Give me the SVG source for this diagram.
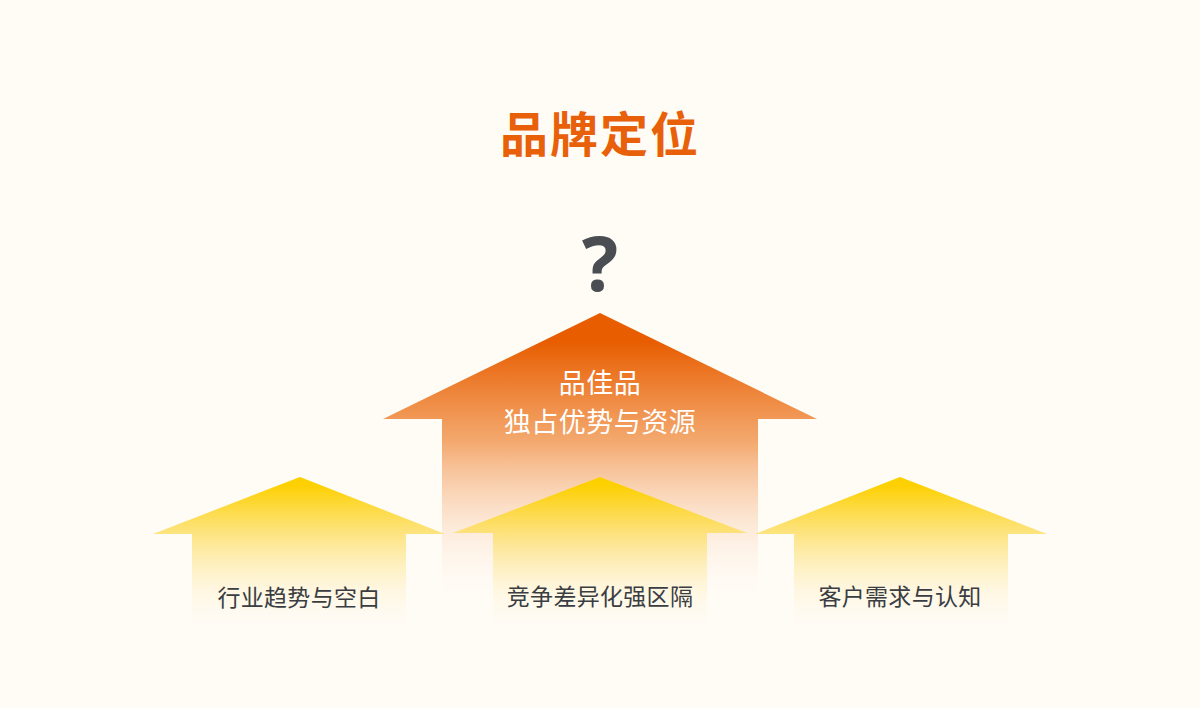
<svg xmlns="http://www.w3.org/2000/svg" width="1200" height="708" viewBox="0 0 1200 708">
<defs>
<linearGradient id="gOrange" x1="0" y1="313" x2="0" y2="600" gradientUnits="userSpaceOnUse">
<stop offset="0.1" stop-color="#E85D00"/>
<stop offset="0.45" stop-color="#F2A060" stop-opacity="0.9"/>
<stop offset="1" stop-color="#FFFBF5" stop-opacity="0"/>
</linearGradient>
<linearGradient id="gYellow" x1="0" y1="477" x2="0" y2="632" gradientUnits="userSpaceOnUse">
<stop offset="0.05" stop-color="#FDD000"/>
<stop offset="0.4" stop-color="#FDE27A" stop-opacity="0.85"/>
<stop offset="1" stop-color="#FFFBF5" stop-opacity="0"/>
</linearGradient>
<style>
.title{font-family:"Noto Sans CJK SC","Noto Sans",sans-serif;font-weight:700;font-size:48px;fill:#E8600A;text-anchor:middle;letter-spacing:2px}
.q{font-family:"Noto Sans","Liberation Sans",sans-serif;font-weight:700;font-size:76px;fill:#4A4D52;text-anchor:middle}
.wt{font-family:"Noto Sans CJK SC",sans-serif;font-size:27px;fill:#FFFFFF;text-anchor:middle;letter-spacing:0.5px}
.lbl{font-family:"Noto Sans CJK SC",sans-serif;font-size:23px;fill:#3A3D42;text-anchor:middle;letter-spacing:0.3px}
</style>
</defs>
<rect width="1200" height="708" fill="#FFFBF5"/>
<text class="title" x="600" y="152">品牌定位</text>
<text class="q" x="600" y="291">?</text>
<g id="main-arrow">
<polygon points="600,313 817,419 758,419 758,600 442,600 442,419 383,419" fill="url(#gOrange)"/>
<text class="wt" x="600" y="393">品佳品</text>
<text class="wt" x="600" y="432">独占优势与资源</text>
</g>
<g id="arrow-left">
<polygon points="300,477 445,534 406,534 406,632 192,632 192,534 153,534" fill="url(#gYellow)"/>
<text class="lbl" x="299" y="606">行业趋势与空白</text>
</g>
<g id="arrow-mid">
<polygon points="600,477 747,533 707,533 707,632 493,632 493,533 453,533" fill="url(#gYellow)"/>
<text class="lbl" x="600" y="605">竞争差异化强区隔</text>
</g>
<g id="arrow-right">
<polygon points="900,477 1047,534 1008,534 1008,632 794,632 794,534 755,534" fill="url(#gYellow)"/>
<text class="lbl" x="900" y="605">客户需求与认知</text>
</g>
<g id="connectors"></g>
</svg>
